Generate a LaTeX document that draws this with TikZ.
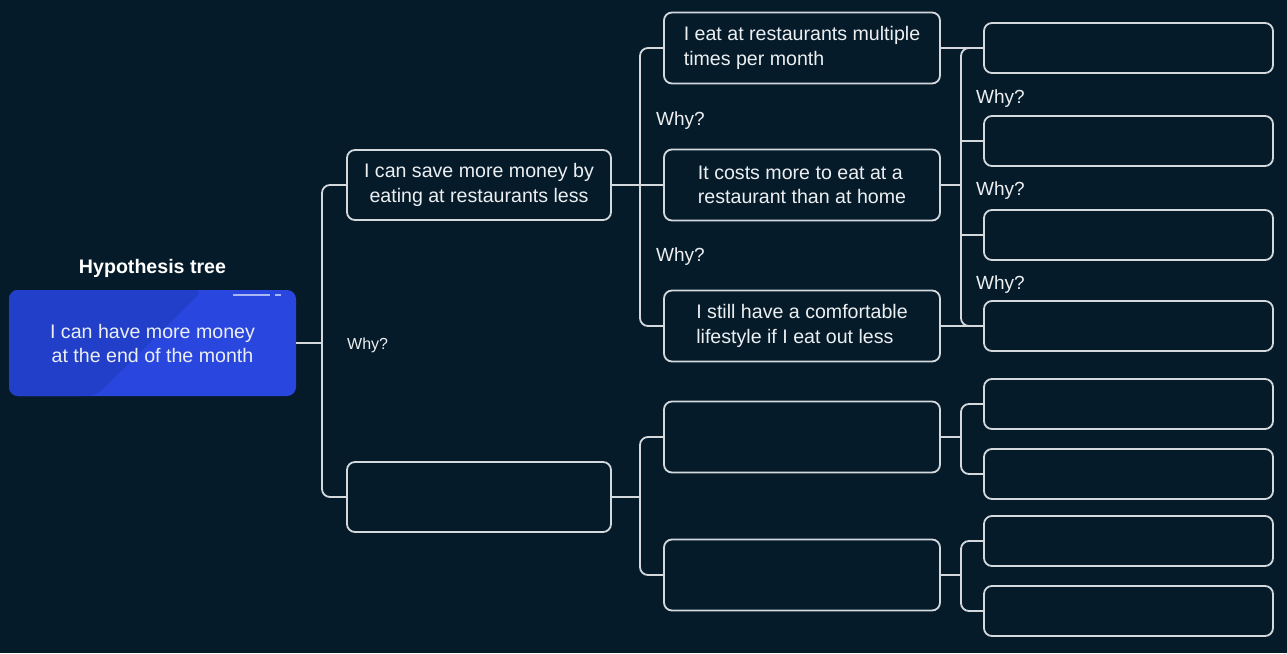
\documentclass[tikz,border=0pt]{standalone}
\usepackage{fontspec}
\setmainfont{Liberation Sans}
\usepackage{tikz}
\usetikzlibrary{positioning,calc}
\definecolor{bgnavy}{HTML}{061B29}
\definecolor{boxline}{HTML}{D3D9DD}
\definecolor{rootblue}{HTML}{2946DF}
\definecolor{rootdark}{HTML}{223FCA}
\definecolor{marklav}{HTML}{A9B8F5}
\definecolor{txt}{HTML}{ECEFF2}
\tikzset{
  tbox/.style={draw=boxline,line width=1.8pt,rounded corners=8pt,fill=bgnavy,text=txt,
    inner sep=0pt,font=\fontsize{19.6}{24.5}\selectfont},
  lvlone/.style={tbox,minimum width=264pt,minimum height=70pt,align=center},
  lvltwo/.style={tbox,minimum width=276pt,minimum height=71pt,align=left},
  lvlthree/.style={tbox,minimum width=289pt,minimum height=50pt},
  rootbox/.style={rounded corners=9pt,fill=rootblue,text=txt,inner sep=0pt,
    minimum width=287pt,minimum height=106pt,align=center,font=\fontsize{19.6}{24}\selectfont,
    path picture={\fill[rootdark] (path picture bounding box.north west) -- ++(194,0)
      -- ++(-107,106) -- (path picture bounding box.south west) -- cycle;}},
  link/.style={draw=boxline,line width=1.8pt},
  why/.style={text=txt,font=\fontsize{19}{23}\selectfont,anchor=west,inner sep=0pt},
}

\begin{document}
\begin{tikzpicture}[x=1pt,y=-1pt]
\fill[bgnavy] (0,0) rectangle (1287,653);
\useasboundingbox (0,0) rectangle (1287,653);

% root and title
\node[rootbox] (root) at (152.5,343) {I can have more money\\at the end of the month};
\draw[marklav,line width=2pt] (233,294.5) -- (270,294.5) (275,294.5) -- (281,294.5);
\node[text=white,inner sep=0pt,font=\bfseries\fontsize{19.6}{23}\selectfont,above=12pt of root] (title) {Hypothesis tree};

% first level
\node[lvlone] (save) at (479,185) {I can save more money by\\eating at restaurants less};
\node[lvlone] (other) at (479,497) {};
\node[why,font=\fontsize{16}{20}\selectfont] (why0) at (347,345) {Why?};

% second level
\node[lvltwo] (often) at (802,48) {I eat at restaurants multiple\\times per month};
\node[lvltwo] (costs) at (802,185) {It costs more to eat at a\\restaurant than at home};
\node[lvltwo] (comfy) at (802,326) {I still have a comfortable\\lifestyle if I eat out less};
\node[lvltwo] (otherA) at (802,437) {};
\node[lvltwo] (otherB) at (802,575) {};
\node[why] (why1) at (656,121) {Why?};
\node[why] (why2) at (656,257) {Why?};

% third level
\foreach \n/\y in {c1/48,c2/141,c3/235,c4/326,d1/404,d2/474,d3/541,d4/611}{
  \node[lvlthree] (\n) at (1128.5,\y) {};
}
\node[why] (why3) at (976,99) {Why?};
\node[why] (why4) at (976,191) {Why?};
\node[why] (why5) at (976,285) {Why?};

% joints
\coordinate (j0) at (322,343);
\coordinate (j1) at (640,185);
\coordinate (j2) at (640,497);
\coordinate (j3) at (961,185);
\coordinate (j4) at (961,437);
\coordinate (j5) at (961,575);

% connectors
\draw[link] (root.east) -- (j0);
\draw[link,rounded corners=8pt] (save.west) -| (j0) |- (other.west);
\draw[link] (save.east) -- (costs.west);
\draw[link,rounded corners=8pt] (often.west) -| (j1) |- (comfy.west);
\draw[link] (other.east) -- (j2);
\draw[link,rounded corners=8pt] (otherA.west) -| (j2) |- (otherB.west);
\draw[link] (often.east) -- (c1.west);
\draw[link] (comfy.east) -- (c4.west);
\draw[link] (costs.east) -- (j3);
\draw[link,rounded corners=8pt] (c1.west) -| (j3) |- (c4.west);
\draw[link] (c2.west) -- (c2.west -| j3);
\draw[link] (c3.west) -- (c3.west -| j3);
\draw[link] (otherA.east) -- (j4);
\draw[link,rounded corners=8pt] (d1.west) -| (j4) |- (d2.west);
\draw[link] (otherB.east) -- (j5);
\draw[link,rounded corners=8pt] (d3.west) -| (j5) |- (d4.west);
\end{tikzpicture}
\end{document}
